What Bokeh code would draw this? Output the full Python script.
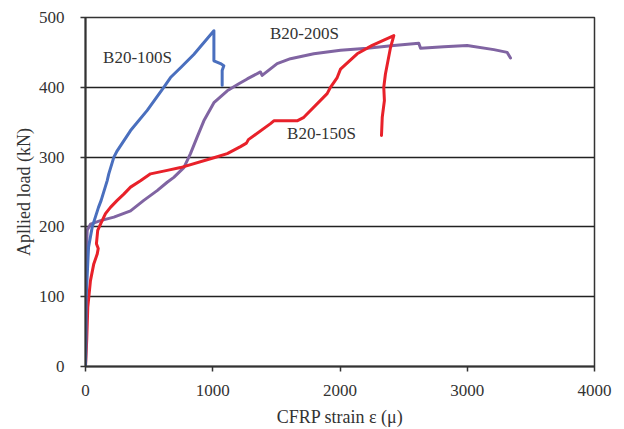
from bokeh.plotting import figure
from bokeh.models import Range1d, FixedTicker
from bokeh.core.properties import value
from bokeh.embed import file_html
from bokeh.resources import INLINE

# B20-100S
blue_x = [0, 4, 5, 24, 53, 102, 123, 170, 183, 223, 249, 354, 485, 615, 668, 747, 851, 1009, 1009, 1061, 1087, 1074, 1074]
blue_y = [0, 40, 99, 171, 200, 228, 238, 266, 276, 300, 309, 338, 367, 400, 414, 428, 447, 481, 438, 434, 431, 424, 403]

# B20-200S
purple_x = [0, 4, 6, 13, 39, 118, 223, 354, 458, 563, 642, 694, 773, 825, 878, 930, 1009, 1114, 1205, 1271, 1375, 1388,
            1506, 1611, 1794, 2004, 2213, 2423, 2619, 2633, 2816, 2999, 3209, 3314, 3340]
purple_y = [0, 75, 150, 195, 204, 209, 214, 223, 238, 252, 264, 271, 285, 305, 329, 352, 378, 395, 405, 412, 422, 417,
            434, 441, 448, 453, 456, 460, 463, 456, 458, 460, 454, 450, 442]

# B20-150S
red_x = [0, 10, 18, 39, 65, 92, 100, 86, 96, 118, 157, 196, 249, 301, 354, 432, 511, 642, 747, 1009, 1114, 1218, 1265,
         1280, 1454, 1480, 1663, 1716, 1899, 1925, 1978, 2004, 2135, 2253, 2423, 2397, 2357, 2344, 2349, 2332, 2326]
red_y = [0, 40, 85, 123, 147, 161, 169, 176, 195, 204, 219, 228, 238, 247, 257, 266, 276, 281, 285, 299, 305, 315, 320,
         325, 348, 352, 352, 357, 391, 400, 414, 426, 448, 460, 474, 457, 419, 400, 381, 357, 331]

label_text = ["B20-100S", "B20-200S", "B20-150S"]
label_x = [409, 1720, 1855]
label_y = [443, 477, 334]

x_ticks = [0, 1000, 2000, 3000, 4000]
y_ticks = [0, 100, 200, 300, 400, 500]

FONT = "Liberation Serif"

p = figure(width=624, height=429, output_backend="svg", toolbar_location=None,
           x_range=Range1d(0, 4000), y_range=Range1d(0, 500),
           min_border_left=85, min_border_right=30, min_border_top=17, min_border_bottom=63)

p.background_fill_color = "white"
p.border_fill_color = "white"
p.outline_line_color = "#333333"
p.outline_line_width = 1.5

p.xgrid.visible = False
p.ygrid.ticker = FixedTicker(ticks=y_ticks)
p.ygrid.grid_line_color = "#222222"
p.ygrid.grid_line_width = 1.3

p.xaxis.ticker = FixedTicker(ticks=x_ticks)
p.yaxis.ticker = FixedTicker(ticks=y_ticks)
for ax in (p.xaxis, p.yaxis):
    ax.axis_line_color = "#333333"
    ax.axis_line_width = 2
    ax.major_tick_line_color = "#333333"
    ax.major_tick_line_width = 1.5
    ax.major_tick_out = 5
    ax.major_tick_in = 0
    ax.minor_tick_line_color = None
    ax.major_label_text_font = FONT
    ax.major_label_text_font_size = "17px"
    ax.major_label_text_color = "#333333"
    ax.axis_label_text_font = FONT
    ax.axis_label_text_font_size = "18px"
    ax.axis_label_text_font_style = "normal"
    ax.axis_label_text_color = "#333333"

p.xaxis.axis_label = "CFRP strain ε (μ)"
p.yaxis.axis_label = "Apllied load (kN)"
p.xaxis.major_label_standoff = 13
p.yaxis.major_label_standoff = 16
p.xaxis.axis_label_standoff = 8
p.yaxis.axis_label_standoff = 2

p.line(purple_x, purple_y, line_color="#8064A2", line_width=3, line_join="round", line_cap="round")
p.line(red_x, red_y, line_color="#E8212A", line_width=3, line_join="round", line_cap="round")
p.line(blue_x, blue_y, line_color="#4A6FBE", line_width=3, line_join="round", line_cap="round")

p.text(x=label_x, y=label_y, text=label_text, text_font=value(FONT), text_font_size="17px",
       text_color="#333333", text_align="center", text_baseline="middle")

open("out.html", "w").write(file_html(p, INLINE))
